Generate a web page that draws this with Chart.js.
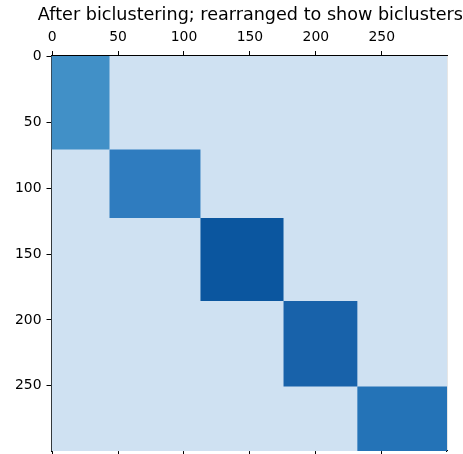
<!DOCTYPE html>
<html>
<head>
<meta charset="utf-8">
<script src="https://cdn.jsdelivr.net/npm/chart.js@4.4.1/dist/chart.umd.min.js"></script>
<style>
  html, body { margin: 0; padding: 0; background: #fff; }
  #wrap { width: 463px; height: 454px; }
</style>
</head>
<body>
<div id="wrap"><canvas id="c" width="463" height="454"></canvas></div>
<script>
// matrix size and bicluster breaks (row / column index where each block starts)
var nRows = 300;
var nCols = 300;
var rowBreaks = [0, 71, 123, 186, 251, 300];
var colBreaks = [0, 44, 113, 176, 232, 300];
var xTickLabels = [0, 50, 100, 150, 200, 250];
var yTickLabels = [0, 50, 100, 150, 200, 250];

// colours (Blues colormap look)
var backColor = "#cfe1f2";
var blockColors = ["#4190c7", "#2f7cbf", "#0b569f", "#1862aa", "#2473b7"];

// a cell rectangle as a closed polygon in data coords
function rect(x0, x1, y0, y1) {
    return [
        {x: x0 - 0.5, y: y0 - 0.5},
        {x: x1 - 0.5, y: y0 - 0.5},
        {x: x1 - 0.5, y: y1 - 0.5},
        {x: x0 - 0.5, y: y1 - 0.5},
        {x: x0 - 0.5, y: y0 - 0.5}
    ];
}

var datasets = [];
for (var i = 0; i < blockColors.length; i++) {
    datasets.push({
        data: rect(colBreaks[i], colBreaks[i + 1], rowBreaks[i], rowBreaks[i + 1]),
        backgroundColor: blockColors[i],
        borderWidth: 0,
        pointRadius: 0,
        showLine: true,
        fill: "shape",
        order: 0
    });
}
// whole matrix background
datasets.push({
    data: rect(0, nCols, 0, nRows),
    backgroundColor: backColor,
    borderWidth: 0,
    pointRadius: 0,
    showLine: true,
    fill: "shape",
    order: 1
});

function setTicks(list) {
    return function(scale) {
        scale.ticks = list.map(function(v) { return {value: v}; });
    };
}

var tickFont = {family: "DejaVu Sans", size: 13.9};
var border = {display: true, color: "#000", width: 1.1};

var ctx = document.getElementById("c").getContext("2d");
var chart = new Chart(ctx, {
    type: "scatter",
    data: {datasets: datasets},
    options: {
        responsive: false,
        animation: false,
        layout: {padding: 0},
        plugins: {
            legend: {display: false},
            tooltip: {enabled: false},
            title: {
                display: true,
                fullSize: true,
                align: "end",
                text: "After biclustering; rearranged to show biclusters",
                color: "#000",
                font: {family: "DejaVu Sans", size: 17.6, weight: "normal", lineHeight: 1.2},
                padding: {top: 5, bottom: 1}
            }
        },
        scales: {
            x: {
                type: "linear",
                position: "top",
                min: -0.5,
                max: nCols - 0.5,
                afterBuildTicks: setTicks(xTickLabels),
                afterFit: function(scale) { scale.height = 28.9; },
                ticks: {color: "#000", font: tickFont, padding: 5, maxRotation: 0},
                grid: {drawOnChartArea: false, drawTicks: true, tickLength: 5, color: "#000", tickWidth: 1},
                border: border
            },
            x2: {
                type: "linear",
                position: "bottom",
                min: -0.5,
                max: nCols - 0.5,
                afterBuildTicks: setTicks(xTickLabels),
                afterFit: function(scale) { scale.height = 3; },
                ticks: {display: false},
                grid: {drawOnChartArea: false, drawTicks: true, tickLength: 3, color: "#000", tickWidth: 1},
                border: border
            },
            y: {
                type: "linear",
                position: "left",
                reverse: true,
                min: -0.5,
                max: nRows - 0.5,
                afterBuildTicks: setTicks(yTickLabels),
                afterFit: function(scale) {
                    scale.width = 51.5;
                    scale.paddingTop = 0;
                    scale.paddingBottom = 0;
                },
                ticks: {color: "#000", font: tickFont, padding: 5},
                grid: {drawOnChartArea: false, drawTicks: true, tickLength: 5, color: "#000", tickWidth: 1},
                border: border
            },
            y2: {
                type: "linear",
                position: "right",
                reverse: true,
                min: -0.5,
                max: nRows - 0.5,
                afterFit: function(scale) {
                    scale.width = 16;
                    scale.paddingTop = 0;
                    scale.paddingBottom = 0;
                },
                ticks: {display: false},
                grid: {drawOnChartArea: false, drawTicks: false},
                border: border
            }
        }
    }
});
</script>
</body>
</html>
